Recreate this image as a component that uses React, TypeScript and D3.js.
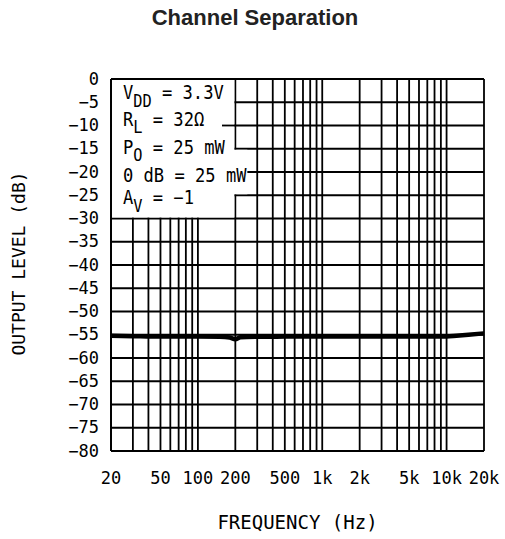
import React from "react";
import * as d3 from "d3";

const freqs = [20, 30, 50, 100, 150, 180, 200, 220, 300, 500, 1000, 2000, 5000, 10000, 12000, 15000, 20000];
const levels = [-55.2, -55.3, -55.4, -55.4, -55.45, -55.6, -55.95, -55.55, -55.45, -55.4, -55.4, -55.4, -55.4, -55.35, -55.2, -55.0, -54.7];

const yTicks = [0, -5, -10, -15, -20, -25, -30, -35, -40, -45, -50, -55, -60, -65, -70, -75, -80];
const xTickValues = [20, 50, 100, 200, 500, 1000, 2000, 5000, 10000, 20000];
const xTickLabels = ["20", "50", "100", "200", "500", "1k", "2k", "5k", "10k", "20k"];
const xGrid = [20, 30, 40, 50, 60, 70, 80, 90, 100, 200, 300, 400, 500, 600, 700, 800, 900, 1000, 2000, 3000, 4000, 5000, 6000, 7000, 8000, 9000, 10000, 20000];

const W = 505, H = 539;
const L = 111, R = 484, T = 79, B = 451;
const mono = "'DejaVu Sans Mono', monospace";

export default function App() {
  const x = d3.scaleLog().domain([20, 20000]).range([L, R]);
  const y = d3.scaleLinear().domain([-80, 0]).range([B, T]);
  const line = d3.line<number>().x((_, i) => x(freqs[i])).y((d) => y(d)).curve(d3.curveMonotoneX);
  const sw = 1.8;
  const legendRows = [
    { v: -5, off: -3.2, parts: [["V", 0], ["DD", 1], [" = 3.3V", 0]] },
    { v: -10, off: 0.2, parts: [["R", 0], ["L", 1], [" = 32Ω", 0]] },
    { v: -15, off: 5.2, parts: [["P", 0], ["O", 1], [" = 25 mW", 0]] },
    { v: -20, off: 10.3, parts: [["0 dB = 25 mW", 0]] },
    { v: -25, off: 8.8, parts: [["A", 0], ["V", 1], [" = −1", 0]] },
  ];
  return (
    <svg width={W} height={H} style={{ position: "absolute", left: 0, top: 0, background: "#fff" }}>
      <text x={255} y={25} textAnchor="middle" fontFamily="'Liberation Sans', Arial, sans-serif" fontWeight="bold" fontSize={22} fill="#222">
        Channel Separation
      </text>
      <g stroke="#000" strokeWidth={sw}>
        {xGrid.map((f) => (
          <line key={"xg" + f} x1={x(f)} x2={x(f)} y1={T} y2={B} />
        ))}
        {yTicks.map((v) => (
          <line key={"yg" + v} x1={L} x2={R} y1={y(v)} y2={y(v)} />
        ))}
      </g>
      {/* legend background masks */}
      <rect x={L + 1} y={T + 1} width={x(200) - L - 2} height={y(-30) - T - 2} fill="#fff" />
      <rect x={x(200) - 2} y={y(-15) + 1} width={14} height={y(-25) - y(-15) - 2} fill="#fff" />
      <line x1={222} x2={x(200)} y1={y(-10)} y2={y(-10)} stroke="#000" strokeWidth={sw} />
      <line x1={L} x2={L} y1={T} y2={B} stroke="#000" strokeWidth={sw} />
      <line x1={L} x2={R} y1={T} y2={T} stroke="#000" strokeWidth={sw} />
      {legendRows.map((r) => (
        <text key={"lg" + r.v} transform={`translate(123,${y(r.v) + r.off}) scale(0.9,1)`} fontFamily={mono} fontSize={19} fill="#000">
          {r.parts.map(([s, sub], i) => (
            <tspan key={i} dy={i === 0 ? 0 : sub ? 7.5 : (r.parts[i - 1][1] ? -7.5 : 0)} fontSize={sub ? 17 : 19}>
              {s as string}
            </tspan>
          ))}
        </text>
      ))}
      <path d={line(levels) || ""} fill="none" stroke="#000" strokeWidth={4.5} />
      <g fontFamily={mono} fontSize={17} fill="#000">
        {yTicks.map((v) => (
          <text key={"yt" + v} x={99} y={y(v) + 5.5} textAnchor="end">
            {v === 0 ? "0" : "−" + Math.abs(v)}
          </text>
        ))}
        {xTickValues.map((f, i) => (
          <text key={"xt" + f} x={x(f)} y={483.5} textAnchor="middle">
            {xTickLabels[i]}
          </text>
        ))}
      </g>
      <text x={297.5} y={529} textAnchor="middle" fontFamily={mono} fontSize={19} fill="#000">
        FREQUENCY (Hz)
      </text>
      <text transform={`translate(25,263.5) rotate(-90)`} textAnchor="middle" fontFamily={mono} fontSize={18} fill="#000">
        OUTPUT LEVEL (dB)
      </text>
    </svg>
  );
}
